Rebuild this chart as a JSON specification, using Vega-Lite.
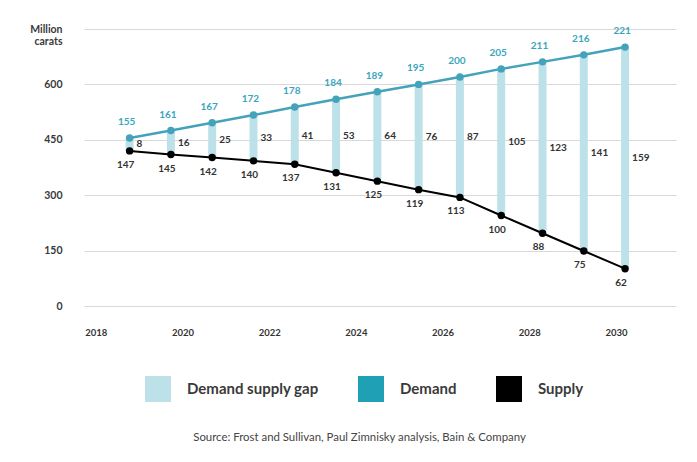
{
  "$schema": "https://vega.github.io/schema/vega-lite/v6.json",
  "autosize": {"type": "none"},
  "width": 592,
  "height": 277,
  "padding": {"left": 84, "top": 29, "right": 21, "bottom": 156},
  "config": {
    "view": {"stroke": null},
    "font": "Lato",
    "axis": {"labelFont": "Lato", "titleFont": "Lato"},
    "legend": {"labelFont": "Lato"}
  },
  "data": {
    "values": [
      {"year": 2018, "demand": 155, "supply": 147, "gap": 8, "demand_axis": 455, "supply_axis": 420},
      {"year": 2019, "demand": 161, "supply": 145, "gap": 16, "demand_axis": 475, "supply_axis": 410},
      {"year": 2020, "demand": 167, "supply": 142, "gap": 25, "demand_axis": 496, "supply_axis": 402},
      {"year": 2021, "demand": 172, "supply": 140, "gap": 33, "demand_axis": 517, "supply_axis": 393},
      {"year": 2022, "demand": 178, "supply": 137, "gap": 41, "demand_axis": 539, "supply_axis": 384},
      {"year": 2023, "demand": 184, "supply": 131, "gap": 53, "demand_axis": 560, "supply_axis": 361},
      {"year": 2024, "demand": 189, "supply": 125, "gap": 64, "demand_axis": 580, "supply_axis": 338},
      {"year": 2025, "demand": 195, "supply": 119, "gap": 76, "demand_axis": 600, "supply_axis": 315},
      {"year": 2026, "demand": 200, "supply": 113, "gap": 87, "demand_axis": 620, "supply_axis": 294},
      {"year": 2027, "demand": 205, "supply": 100, "gap": 105, "demand_axis": 642, "supply_axis": 245},
      {"year": 2028, "demand": 211, "supply": 88, "gap": 123, "demand_axis": 661, "supply_axis": 197},
      {"year": 2029, "demand": 216, "supply": 75, "gap": 141, "demand_axis": 680, "supply_axis": 149},
      {"year": 2030, "demand": 221, "supply": 62, "gap": 159, "demand_axis": 701, "supply_axis": 101}
    ]
  },
  "resolve": {"scale": {"x": "independent"}},
  "layer": [
    {
      "mark": {"type": "point", "opacity": 0},
      "encoding": {
        "x": {
          "field": "year", "type": "quantitative",
          "scale": {"domain": [2017.73, 2031.383], "nice": false, "zero": false},
          "axis": {
            "values": [2018, 2020, 2022, 2024, 2026, 2028, 2030],
            "format": "d", "grid": false, "domain": false, "ticks": false,
            "labelPadding": 21, "labelFontSize": 9.5, "labelFontWeight": "bold", "labelColor": "#333333",
            "title": "Source: Frost and Sullivan, Paul Zimnisky analysis, Bain & Company",
            "titleFontWeight": "normal", "titleFontSize": 11.4, "titleColor": "#444444",
            "titleX": 275, "titleY": 131, "titleAlign": "center", "titleBaseline": "middle", "titleAnchor": null
          }
        },
        "y": {
          "field": "demand_axis", "type": "quantitative",
          "scale": {"domain": [0, 750], "nice": false},
          "axis": {
            "values": [0, 150, 300, 450, 600, 750],
            "labelExpr": "datum.value == 750 ? ['Million', 'carats'] : datum.label",
            "labelLineHeight": 12.5,
            "grid": true, "gridColor": "#d9d9d9", "gridWidth": 1,
            "domain": false, "ticks": false, "labelPadding": 22,
            "labelFontSize": 10.5, "labelFontWeight": "bold", "labelColor": "#3a3a3a",
            "title": null
          }
        }
      }
    },
    {
      "layer": [
        {
          "mark": {"type": "bar", "width": 8},
          "encoding": {
            "y": {"field": "supply_axis", "type": "quantitative"},
            "y2": {"field": "demand_axis"},
            "color": {
              "datum": "Demand supply gap",
              "scale": {"domain": ["Demand supply gap", "Demand", "Supply"], "range": ["#bde1e8", "#1fa0b5", "#000000"]},
              "legend": {
                "orient": "none", "legendX": 61, "legendY": 347, "direction": "horizontal",
                "title": null, "symbolType": "square", "symbolSize": 676, "symbolStrokeWidth": 0,
                "labelFontSize": 15, "labelFontWeight": "bold", "labelColor": "#3a3a3a",
                "labelOffset": 16, "columnPadding": 39
              }
            }
          }
        },
        {
          "mark": {"type": "line", "color": "#44a3bb", "strokeWidth": 2.5,
                   "point": {"filled": true, "size": 55, "color": "#44a3bb"}},
          "encoding": {"y": {"field": "demand_axis", "type": "quantitative"}}
        },
        {
          "mark": {"type": "line", "color": "#000000", "strokeWidth": 2,
                   "point": {"filled": true, "size": 55, "color": "#000000"}},
          "encoding": {"y": {"field": "supply_axis", "type": "quantitative"}}
        },
        {
          "mark": {"type": "text", "dy": -16, "dx": -3, "color": "#3aa6be", "fontWeight": "bold", "fontSize": 10},
          "encoding": {"y": {"field": "demand_axis", "type": "quantitative"}, "text": {"field": "demand"}}
        },
        {
          "mark": {"type": "text", "dy": 14, "dx": -4, "color": "#333333", "fontWeight": "bold", "fontSize": 10},
          "encoding": {"y": {"field": "supply_axis", "type": "quantitative"}, "text": {"field": "supply"}}
        },
        {
          "transform": [
            {"fold": ["demand_axis", "supply_axis"], "as": ["series", "axis_value"]},
            {"aggregate": [{"op": "mean", "field": "axis_value", "as": "mid"}], "groupby": ["year", "gap"]}
          ],
          "mark": {"type": "text", "align": "left", "dx": 7, "color": "#333333", "fontWeight": "bold", "fontSize": 10},
          "encoding": {"y": {"field": "mid", "type": "quantitative"}, "text": {"field": "gap"}}
        }
      ],
      "encoding": {
        "x": {
          "field": "year", "type": "quantitative",
          "scale": {"domain": [2017.0167, 2031.112], "nice": false, "zero": false},
          "axis": null
        }
      }
    }
  ]
}
